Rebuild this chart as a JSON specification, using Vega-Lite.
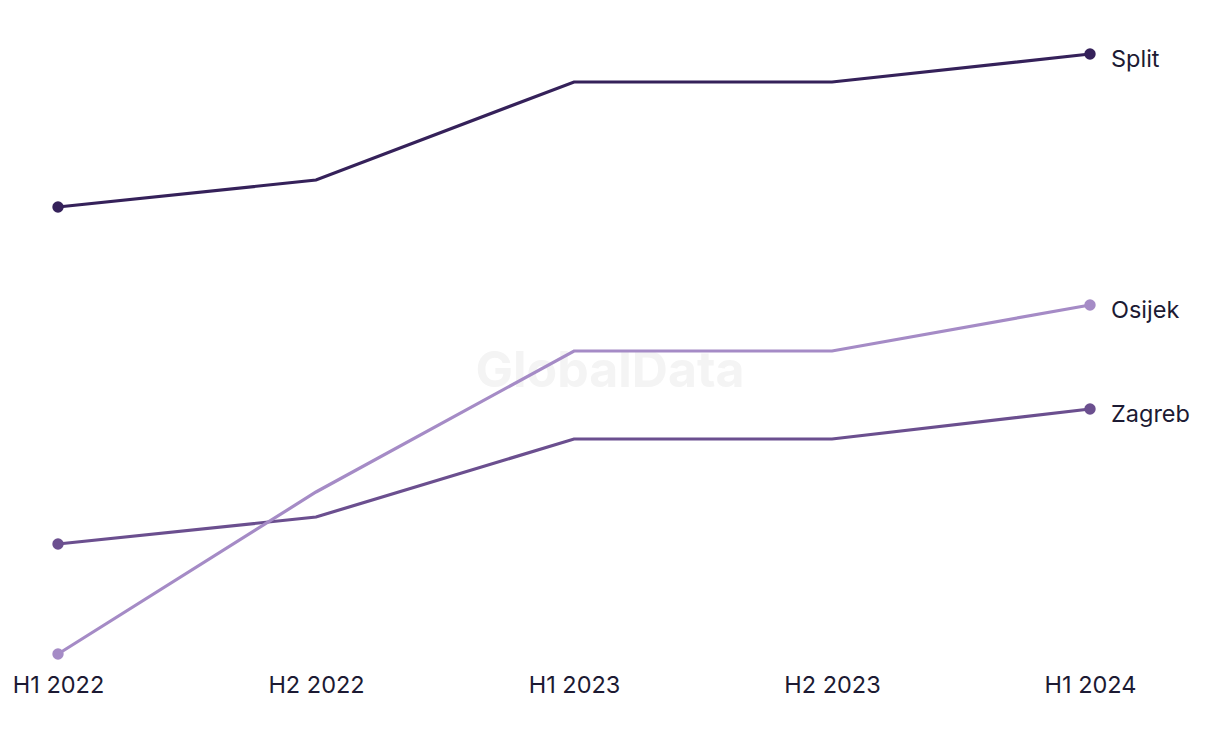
{
  "$schema": "https://vega.github.io/schema/vega-lite/v6.json",
  "width": 1032,
  "height": 600,
  "padding": {"left": 58, "top": 54, "right": 130, "bottom": 90},
  "autosize": {"type": "none"},
  "background": "#ffffff",
  "config": {"view": {"stroke": null}, "font": "Inter"},
  "data": {
    "values": [
      {"period": "H1 2022", "city": "Split", "value": 447},
      {"period": "H2 2022", "city": "Split", "value": 474},
      {"period": "H1 2023", "city": "Split", "value": 572},
      {"period": "H2 2023", "city": "Split", "value": 572},
      {"period": "H1 2024", "city": "Split", "value": 600},
      {"period": "H1 2022", "city": "Zagreb", "value": 110},
      {"period": "H2 2022", "city": "Zagreb", "value": 137},
      {"period": "H1 2023", "city": "Zagreb", "value": 215},
      {"period": "H2 2023", "city": "Zagreb", "value": 215},
      {"period": "H1 2024", "city": "Zagreb", "value": 245},
      {"period": "H1 2022", "city": "Osijek", "value": 0},
      {"period": "H2 2022", "city": "Osijek", "value": 162},
      {"period": "H1 2023", "city": "Osijek", "value": 303},
      {"period": "H2 2023", "city": "Osijek", "value": 303},
      {"period": "H1 2024", "city": "Osijek", "value": 349}
    ]
  },
  "encoding": {
    "x": {
      "field": "period",
      "type": "ordinal",
      "sort": ["H1 2022", "H2 2022", "H1 2023", "H2 2023", "H1 2024"],
      "scale": {"type": "point", "padding": 0},
      "axis": {
        "title": null,
        "domain": false,
        "ticks": false,
        "grid": false,
        "labelAngle": 0,
        "labelFont": "Inter",
        "labelFontSize": 23.5,
        "labelColor": "#1c1a33",
        "labelPadding": 19
      }
    },
    "y": {
      "field": "value",
      "type": "quantitative",
      "scale": {"domain": [0, 600], "nice": false, "zero": false},
      "axis": null
    },
    "color": {
      "field": "city",
      "type": "nominal",
      "scale": {"domain": ["Split", "Zagreb", "Osijek"], "range": ["#35215a", "#6b4f8f", "#a58bc6"]},
      "legend": null
    }
  },
  "layer": [
    {
      "data": {"values": [{"label": "GlobalData", "period": "H1 2023", "value": 282}]},
      "mark": {"type": "text", "font": "Inter", "fontWeight": "bold", "fontSize": 50, "dx": 36, "baseline": "middle", "align": "center"},
      "encoding": {
        "x": {"field": "period", "type": "ordinal"},
        "y": {"field": "value", "type": "quantitative"},
        "text": {"field": "label"},
        "color": {"value": "#f4f4f4"}
      }
    },
    {
      "mark": {"type": "line", "strokeWidth": 3.2},
      "encoding": {"detail": {"field": "city"}}
    },
    {
      "transform": [{"filter": "datum.period === 'H1 2022' || datum.period === 'H1 2024'"}],
      "mark": {"type": "circle", "size": 130, "opacity": 1}
    },
    {
      "transform": [{"filter": "datum.period === 'H1 2024'"}],
      "mark": {"type": "text", "align": "left", "baseline": "middle", "dx": 21, "dy": 6, "fontSize": 23.5, "font": "Inter"},
      "encoding": {
        "text": {"field": "city"},
        "color": {"value": "#1c1a33"}
      }
    }
  ]
}
